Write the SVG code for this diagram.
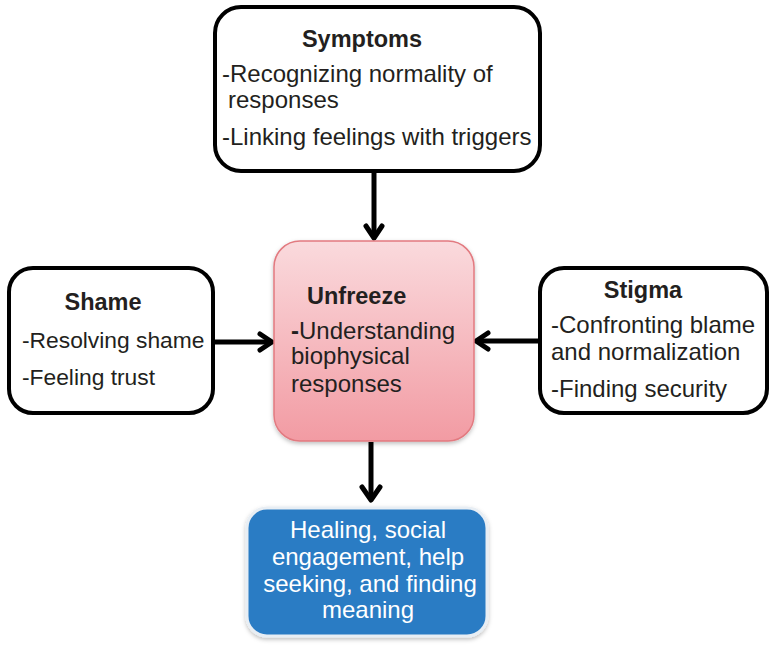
<svg xmlns="http://www.w3.org/2000/svg" width="770" height="645" viewBox="0 0 770 645">
<defs>
<linearGradient id="pink" x1="0" y1="0" x2="0" y2="1">
<stop offset="0" stop-color="#fadadd"/>
<stop offset="1" stop-color="#f29ba3"/>
</linearGradient>
<filter id="sh" x="-10%" y="-10%" width="120%" height="120%">
<feDropShadow dx="0" dy="2" stdDeviation="2" flood-color="#000" flood-opacity="0.25"/>
</filter>
<style>
.box{fill:#fff;stroke:#000;stroke-width:4}
.t{font-family:"Liberation Sans",Arial,sans-serif;font-size:24px;fill:#231f20}
.b{font-weight:bold;font-size:23.5px}
.s{font-size:22.8px}
.w{fill:#fff;font-size:24px;text-anchor:middle}
.c{stroke:#000;stroke-width:5;fill:none}
.h{stroke:#000;stroke-width:5;fill:none;stroke-linecap:round;stroke-linejoin:round}
</style>
</defs>
<rect width="770" height="645" fill="#fff"/>
<g id="connectors">
<line class="c" x1="374" y1="171" x2="374" y2="236"/>
<path class="h" d="M366,226 L374,238 L382,226"/>
<line class="c" x1="213" y1="342" x2="270" y2="342"/>
<path class="h" d="M260,334 L272,342 L260,350"/>
<line class="c" x1="540" y1="341" x2="478" y2="341"/>
<path class="h" d="M488,333 L476,341 L488,349"/>
<line class="c" x1="371" y1="442" x2="371" y2="498"/>
<path class="h" d="M362,487 L371,500 L380,487"/>
</g>
<g id="symptoms">
<rect class="box" x="215" y="7" width="325" height="164" rx="26"/>
<text class="t b" x="362" y="47" text-anchor="middle">Symptoms</text>
<text class="t" x="222" y="82">-Recognizing normality of</text>
<text class="t" x="228" y="108">responses</text>
<text class="t" x="222" y="145">-Linking feelings with triggers</text>
</g>
<g id="unfreeze">
<rect x="274" y="241" width="200" height="200" rx="26" fill="url(#pink)" stroke="#e27a80" stroke-width="1.5" filter="url(#sh)"/>
<text class="t b" x="307" y="304">Unfreeze</text>
<text class="t" x="291" y="339"><tspan font-weight="bold">-</tspan>Understanding</text>
<text class="t" x="291" y="364">biophysical</text>
<text class="t" x="291" y="392">responses</text>
</g>
<g id="shame">
<rect class="box" x="9" y="268" width="204" height="145" rx="24"/>
<text class="t b" x="103" y="310" text-anchor="middle">Shame</text>
<text class="t s" x="22" y="348">-Resolving shame</text>
<text class="t s" x="22" y="385">-Feeling trust</text>
</g>
<g id="stigma">
<rect class="box" x="540" y="268" width="227" height="145" rx="24"/>
<text class="t b" x="643" y="298" text-anchor="middle">Stigma</text>
<text class="t" x="551" y="333">-Confronting blame</text>
<text class="t" x="551" y="360">and normalization</text>
<text class="t" x="551" y="397">-Finding security</text>
</g>
<g id="outcome">
<rect x="247" y="508" width="240" height="128" rx="20" fill="#2b7cc4" stroke="#e8eef4" stroke-width="3" filter="url(#sh)"/>
<text class="t w" x="368" y="538">Healing, social</text>
<text class="t w" x="368" y="565">engagement, help</text>
<text class="t w" x="370" y="592">seeking, and finding</text>
<text class="t w" x="368" y="618">meaning</text>
</g>
</svg>
